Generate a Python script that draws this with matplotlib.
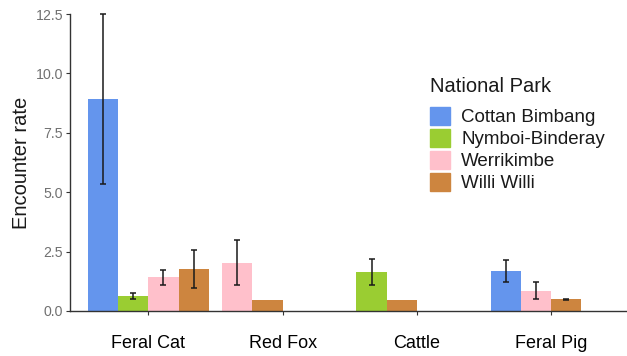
import numpy as np
import matplotlib
matplotlib.use("Agg")
import matplotlib.pyplot as plt

plt.rcParams["font.family"] = ["Liberation Sans", "DejaVu Sans"]

species = ["Feral Cat", "Red Fox", "Cattle", "Feral Pig"]
parks = ["Cottan Bimbang", "Nymboi-Binderay", "Werrikimbe", "Willi Willi"]
colors = ["#6495ED", "#9ACD32", "#FFC0CB", "#CD853F"]

# mean encounter rate per park, one value per species (nan = not recorded)
cottan_mean = [8.92, np.nan, np.nan, 1.67]
nymboi_mean = [0.63, np.nan, 1.64, np.nan]
werri_mean = [1.41, 2.04, np.nan, 0.86]
willi_mean = [1.78, 0.48, 0.48, 0.49]

# standard errors (nan = no error bar)
cottan_se = [3.58, np.nan, np.nan, 0.46]
nymboi_se = [0.13, np.nan, 0.56, np.nan]
werri_se = [0.31, 0.95, np.nan, 0.35]
willi_se = [0.80, np.nan, np.nan, 0.02]

means = [cottan_mean, nymboi_mean, werri_mean, willi_mean]
ses = [cottan_se, nymboi_se, werri_se, willi_se]

fig = plt.figure(figsize=(6.27, 3.56), dpi=100)
ax = fig.add_axes([70 / 627, 45 / 356, 557 / 627, 297 / 356])

group_w = 0.9
bar_w = group_w / len(parks)

# bars are dodged left-aligned inside each group (only present parks take a slot)
for i, sp in enumerate(species):
    x0 = i + 1 - group_w / 2
    slot = 0
    for p in range(len(parks)):
        m = means[p][i]
        if np.isnan(m):
            continue
        xc = x0 + bar_w * (slot + 0.5)
        ax.bar(xc, m, width=bar_w, color=colors[p], edgecolor="none", zorder=2)
        e = ses[p][i]
        if not np.isnan(e):
            ax.errorbar(xc, m, yerr=e, fmt="none", ecolor="#1a1a1a",
                        elinewidth=1.1, capsize=2.4, capthick=1.1,
                        zorder=3, clip_on=False)
        slot += 1

ax.set_xlim(0.417, 4.564)
ax.set_ylim(0, 12.5)
ax.set_xticks(range(1, len(species) + 1))
ax.set_xticklabels(species, fontsize=13, color="black")
ax.set_yticks([0, 2.5, 5.0, 7.5, 10.0, 12.5])
ax.set_yticklabels(["0.0", "2.5", "5.0", "7.5", "10.0", "12.5"],
                   fontsize=10.2, color="#707070")
ax.tick_params(axis="x", length=3, width=0.8, color="#333333", pad=14)
ax.tick_params(axis="y", length=3, width=0.8, color="#333333", pad=2)
ax.set_ylabel("Encounter rate", fontsize=14.5, color="#1a1a1a", labelpad=3)

for side in ["top", "right"]:
    ax.spines[side].set_visible(False)
for side in ["left", "bottom"]:
    ax.spines[side].set_color("#333333")
    ax.spines[side].set_linewidth(1.0)

handles = [plt.Rectangle((0, 0), 1, 1, color=c) for c in colors]
leg = ax.legend(handles, parks, title="National Park", loc="upper left",
                bbox_to_anchor=(360 / 557, 1 - 63 / 297), frameon=False,
                fontsize=13.5, title_fontsize=14.5, handlelength=1.07,
                handleheight=1.07, handletextpad=0.6, labelspacing=0.15,
                borderaxespad=0, borderpad=0)
leg._legend_box.align = "left"
leg._legend_box.sep = 8  # extra room between title and keys
for t in leg.get_texts():
    t.set_color("#1a1a1a")
leg.get_title().set_color("#1a1a1a")

fig.savefig("out.png", dpi=100)
